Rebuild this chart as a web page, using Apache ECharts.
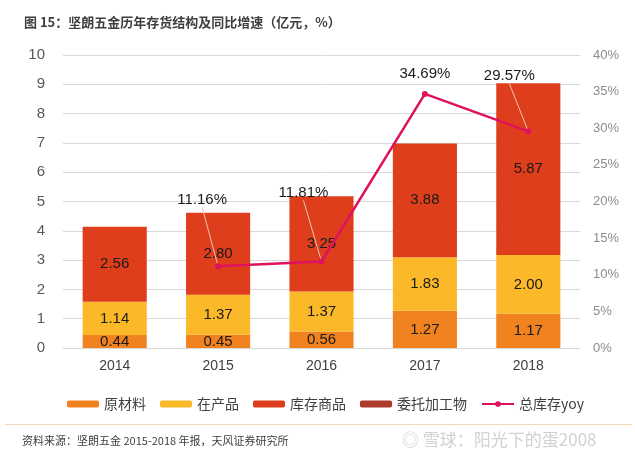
<!DOCTYPE html>
<html>
<head>
<meta charset="utf-8">
<script src="https://cdn.jsdelivr.net/npm/echarts@6/dist/echarts.min.js"></script>
<style>
html,body{margin:0;padding:0;background:#fff;}
#c{width:635px;height:457px;}
</style>
</head>
<body>
<div id="c"></div>
<script>
var categories = ['2014', '2015', '2016', '2017', '2018'];
var rawMaterial = [0.44, 0.45, 0.56, 1.27, 1.17];
var wip = [1.14, 1.37, 1.37, 1.83, 2.00];
var goods = [2.56, 2.80, 3.25, 3.88, 5.87];
var consigned = [null, null, null, null, null];
var yoy = [null, 11.16, 11.81, 34.69, 29.57];
var leftTicks = { min: 0, max: 10, interval: 1 };
var rightTicks = { min: 0, max: 40, interval: 5 };

// label offsets for yoy labels (px)
var yoyLabelDx = [0, -16, -18, 0, -19];
var yoyLabelDy = [0, -51, -53, -5, -40];
var yoyLeader = [false, true, true, false, true];

var font = 'Liberation Sans, Arial, "Noto Sans CJK SC", sans-serif';
var cjk = '"Noto Sans CJK SC", "Liberation Sans", sans-serif';

var chart = echarts.init(document.getElementById('c'), null, { renderer: 'canvas' });

var barLabel = {
  show: true,
  position: 'inside',
  color: '#1a1a1a',
  fontSize: 15,
  fontFamily: font,
  formatter: function (p) { return p.value == null ? '' : Number(p.value).toFixed(2); }
};

var option = {
  backgroundColor: '#ffffff',
  animation: false,
  title: {
    text: '图 15：坚朗五金历年存货结构及同比增速（亿元，%）',
    left: 19, top: 11,
    textStyle: { fontSize: 13, fontWeight: 'bold', color: '#3f3f3f', fontFamily: cjk }
  },
  legend: {
    left: 62, top: 392,
    itemWidth: 32, itemHeight: 7, itemGap: 14,
    textStyle: { fontSize: 14, color: '#404040', fontFamily: cjk },
    data: ['原材料', '在产品', '库存商品', '委托加工物', '总库存yoy']
  },
  grid: { left: 63, right: 55, top: 55, bottom: 109, containLabel: false },
  xAxis: {
    type: 'category',
    data: categories,
    axisTick: { show: false },
    axisLine: { lineStyle: { color: '#d9d9d9' } },
    axisLabel: { fontSize: 14, color: '#404040', fontFamily: font, margin: 11 }
  },
  yAxis: [
    {
      type: 'value', min: leftTicks.min, max: leftTicks.max, interval: leftTicks.interval,
      axisLine: { show: false }, axisTick: { show: false },
      splitLine: { lineStyle: { color: '#d9d9d9' } },
      axisLabel: { fontSize: 15, color: '#595959', fontFamily: font, margin: 18 }
    },
    {
      type: 'value', min: rightTicks.min, max: rightTicks.max, interval: rightTicks.interval,
      axisLine: { show: false }, axisTick: { show: false },
      splitLine: { show: false },
      axisLabel: { fontSize: 13, color: '#8c8c8c', fontFamily: font, margin: 13, formatter: '{value}%' }
    }
  ],
  series: [
    { name: '原材料', type: 'bar', stack: 'inv', barWidth: '62%', data: rawMaterial,
      itemStyle: { color: '#F0821F' }, label: barLabel },
    { name: '在产品', type: 'bar', stack: 'inv', data: wip,
      itemStyle: { color: '#FBB829' }, label: barLabel },
    { name: '库存商品', type: 'bar', stack: 'inv', data: goods,
      itemStyle: { color: '#DE3E1C' }, label: barLabel },
    { name: '委托加工物', type: 'bar', stack: 'inv', data: consigned,
      itemStyle: { color: '#AE3A2C' }, label: { show: false } },
    { name: '总库存yoy', type: 'line', yAxisIndex: 1,
      data: yoy.map(function (v, i) {
        return { value: v, labelLine: { show: yoyLeader[i] } };
      }),
      connectNulls: false,
      symbol: 'circle', symbolSize: 6,
      lineStyle: { color: '#E0115F', width: 2.5 },
      itemStyle: { color: '#E0115F' },
      label: {
        show: true, position: 'top', distance: 5,
        color: '#1a1a1a', fontSize: 15, fontFamily: font,
        formatter: function (p) { return p.value == null ? '' : Number(p.value).toFixed(2) + '%'; }
      },
      labelLine: { show: true, lineStyle: { color: '#f2c2b2', width: 1 } },
      labelLayout: function (p) {
        return { dx: yoyLabelDx[p.dataIndex], dy: yoyLabelDy[p.dataIndex] };
      },
      z: 5
    }
  ],
  graphic: [
    { type: 'line', shape: { x1: 5, y1: 424.5, x2: 632, y2: 424.5 },
      style: { stroke: '#f3d6b8', lineWidth: 1 } },
    { type: 'text', left: 22, top: 435,
      style: { text: '资料来源：坚朗五金 2015-2018 年报，天风证券研究所', font: '11px ' + cjk, fill: '#404040' } },
    { type: 'text', left: 402, top: 431,
      style: { text: '◎ 雪球：阳光下的蛋2008', font: '17px ' + cjk, fill: '#d2d2d2' } }
  ]
};
chart.setOption(option);
</script>
</body>
</html>
